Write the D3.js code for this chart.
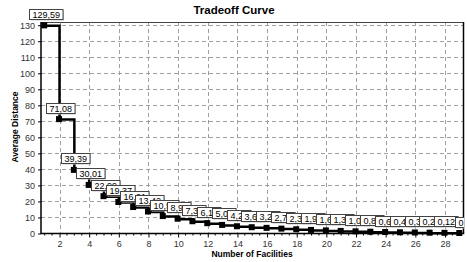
<!DOCTYPE html>
<html>
<head>
<meta charset="utf-8">
<script src="https://cdn.jsdelivr.net/npm/d3@7"></script>
<style>
  html, body { margin: 0; padding: 0; background: #fff; }
  svg { display: block; font-family: "Liberation Sans", Arial, sans-serif; }
</style>
</head>
<body>
<svg id="chart" width="467" height="262"></svg>
<script>
// data
const facilities = d3.range(1, 30)
const avgDistance = [
    129.59, 71.08, 39.39, 30.01, 22.99, 19.37, 16.21, 13.42, 10.56, 8.93,
    7.35, 6.12, 5.05, 4.22, 3.61, 3.21, 2.74, 2.32, 1.93, 1.62,
    1.31, 1.04, 0.81, 0.62, 0.45, 0.33, 0.21, 0.12, 0,
]
const xTicks = [2, 4, 6, 8, 10, 12, 14, 16, 18, 20, 22, 24, 26, 28]
const yTicks = [0, 10, 20, 30, 40, 50, 60, 70, 80, 90, 100, 110, 120, 130]

const points = facilities.map((f, i) => ({ f, v: avgDistance[i] }))

// comma as decimal mark, like the original
const locale = d3.formatLocale({ decimal: ',', thousands: '.', grouping: [3], currency: ['', ''] })
const fmt = v => (v === 0 ? '0' : locale.format('.2f')(v))

const svg = d3.select('#chart')
const plotLeft = 41, plotRight = 463.5, plotTop = 22, plotBottom = 233.5

const x = d3.scaleLinear().domain([0.75, 29.25]).range([plotLeft, plotRight])
const y = d3.scaleLinear().domain([0, 132]).range([plotBottom, plotTop])

// title
svg.append('text')
    .attr('x', 234).attr('y', 14)
    .attr('text-anchor', 'middle')
    .attr('font-weight', 'bold')
    .attr('font-size', 11.5)
    .text('Tradeoff Curve')

// grid
const grid = svg.append('g').attr('stroke', '#a0a0a0').attr('stroke-dasharray', '4,3').attr('stroke-width', 1)
grid.selectAll('.gx').data(xTicks).join('line')
    .attr('x1', d => Math.round(x(d)) + 0.5).attr('x2', d => Math.round(x(d)) + 0.5)
    .attr('y1', plotTop).attr('y2', plotBottom)
grid.selectAll('.gy').data(yTicks.filter(d => d > 0)).join('line')
    .attr('x1', plotLeft).attr('x2', plotRight)
    .attr('y1', d => Math.round(y(d)) + 0.5).attr('y2', d => Math.round(y(d)) + 0.5)

// axes
const xAxis = d3.axisBottom(x).tickValues(xTicks).tickSize(4).tickPadding(3)
const gx = svg.append('g').attr('transform', `translate(0,${plotBottom})`).call(xAxis)
gx.select('.domain').remove()
gx.selectAll('text').attr('font-size', 9).attr('fill', '#333').attr('font-family', 'Liberation Sans, Arial, sans-serif')

const xMinor = d3.range(1, 29.3, 0.5).filter(d => !xTicks.includes(d))
svg.append('g').selectAll('line').data(xMinor).join('line')
    .attr('x1', d => x(d)).attr('x2', d => x(d))
    .attr('y1', plotBottom).attr('y2', plotBottom + 2)
    .attr('stroke', '#000')

const yAxis = d3.axisLeft(y).tickValues(yTicks).tickSize(3).tickPadding(3)
const gy = svg.append('g').attr('transform', `translate(${plotLeft},0)`).call(yAxis)
gy.select('.domain').remove()
gy.selectAll('text').attr('font-size', 9).attr('fill', '#333').attr('font-family', 'Liberation Sans, Arial, sans-serif')

// frame
svg.append('line').attr('x1', plotLeft).attr('x2', plotRight).attr('y1', plotTop + 0.5).attr('y2', plotTop + 0.5)
    .attr('stroke', '#444').attr('stroke-width', 1)
svg.append('line').attr('x1', plotRight).attr('x2', plotRight).attr('y1', plotTop).attr('y2', plotBottom)
    .attr('stroke', '#000').attr('stroke-width', 1.5)
svg.append('line').attr('x1', plotLeft).attr('x2', plotLeft).attr('y1', plotTop).attr('y2', plotBottom + 0.5)
    .attr('stroke', '#000').attr('stroke-width', 1.5)
svg.append('line').attr('x1', plotLeft).attr('x2', plotRight + 0.7).attr('y1', plotBottom).attr('y2', plotBottom)
    .attr('stroke', '#000').attr('stroke-width', 1.5)

// axis titles
svg.append('text')
    .attr('x', 252).attr('y', 257)
    .attr('text-anchor', 'middle')
    .attr('font-weight', 'bold')
    .attr('font-size', 8.5)
    .text('Number of Facilities')
svg.append('text')
    .attr('transform', 'translate(18,127) rotate(-90)')
    .attr('text-anchor', 'middle')
    .attr('font-weight', 'bold')
    .attr('font-size', 8.5)
    .text('Average Distance')

// step line
const line = d3.line()
    .x(d => x(d.f))
    .y(d => y(d.v))
    .curve(d3.curveStepAfter)
svg.append('path')
    .datum(points)
    .attr('fill', 'none')
    .attr('stroke', '#000')
    .attr('stroke-width', 2.5)
    .attr('d', line)

// markers
svg.append('g').selectAll('rect').data(points).join('rect')
    .attr('x', d => x(d.f) - 3.5)
    .attr('y', d => y(d.v) - 3.5)
    .attr('width', 6).attr('height', 6)
    .attr('fill', '#000')

// value marks, drawn in order so later ones cover earlier ones
const clip = svg.append('clipPath').attr('id', 'plotclip')
clip.append('rect').attr('x', 0).attr('y', 0).attr('width', plotRight + 0.5).attr('height', 262)

const marks = svg.append('g').attr('clip-path', 'url(#plotclip)')
points.forEach((d) => {
    const g = marks.append('g')
    const t = g.append('text')
        .attr('font-size', 9)
        .attr('fill', '#000')
        .text(fmt(d.v))
    const w = t.node().getComputedTextLength() + 6
    const h = 10
    const bx = Math.round(x(d.f) + 1 - w / 2) + 0.5
    const by = Math.round(y(d.v) - 17) + 0.5
    g.insert('rect', 'text')
        .attr('x', bx + 1).attr('y', by + 1)
        .attr('width', w).attr('height', h)
        .attr('fill', '#c8c8c8')
    g.insert('rect', 'text')
        .attr('x', bx).attr('y', by)
        .attr('width', w).attr('height', h)
        .attr('fill', '#fff')
        .attr('stroke', '#444')
        .attr('stroke-width', 1)
    t.attr('x', bx + 3).attr('y', by + 8.5)
})
</script>
</body>
</html>
